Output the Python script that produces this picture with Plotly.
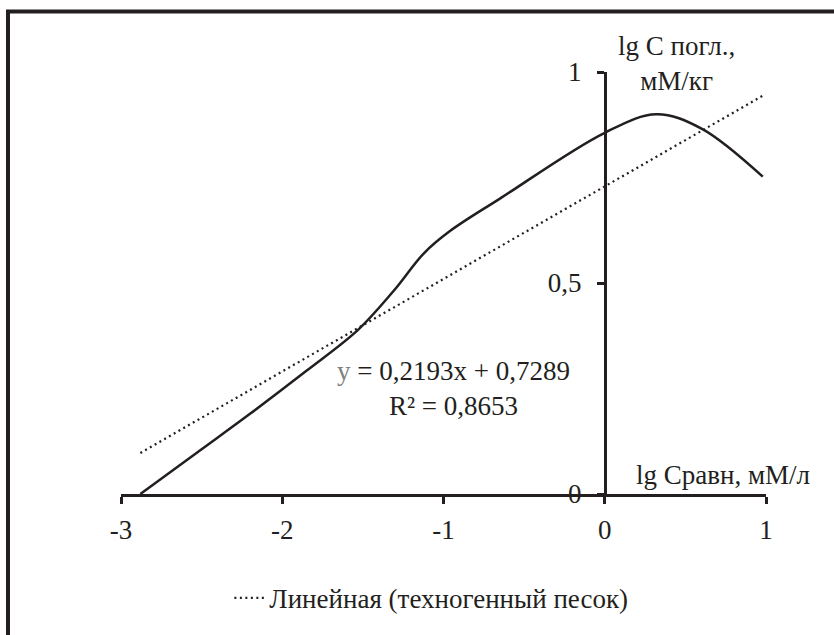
import plotly.graph_objects as go

# ---- data ----
x_data = [-2.88, -2.5, -2.2, -1.85, -1.53, -1.31, -1.12, -0.96, -0.65, 0.0, 0.32, 0.6, 0.98]
y_data = [0.0, 0.106, 0.19, 0.292, 0.389, 0.481, 0.571, 0.623, 0.70, 0.856, 0.90, 0.866, 0.752]
slope, intercept, r2 = 0.2193, 0.7289, 0.8653
x_ticks = [-3, -2, -1, 0, 1]
x_tick_text = ["-3", "-2", "-1", "0", "1"]
y_ticks = [0, 0.5, 1]
y_tick_text = ["0", "0,5", "1"]
trend_name = "Линейная (техногенный песок)"
x_title = "lg Сравн, мМ/л"
y_title_lines = ["lg С погл.,", "мМ/кг"]

INK = "#231f20"
FONT = "Liberation Serif"
FS = 27

trend_x = [min(x_data), max(x_data)]
trend_y = [slope * v + intercept for v in trend_x]

fig = go.Figure()
fig.add_trace(go.Scatter(x=x_data, y=y_data, mode="lines",
                         line=dict(color=INK, width=2.5, shape="spline", smoothing=1.0),
                         showlegend=False, hoverinfo="skip"))
fig.add_trace(go.Scatter(x=trend_x, y=trend_y, mode="lines", name=trend_name,
                         line=dict(color=INK, width=2.2, dash="2px,3.5px"),
                         showlegend=True))

fig.update_layout(
    width=834, height=635,
    margin=dict(l=121, r=68, t=72, b=138, pad=0),
    paper_bgcolor="white", plot_bgcolor="white",
    font=dict(family=FONT, size=FS, color=INK),
    xaxis=dict(range=[-3, 1], domain=[0, 1], showgrid=False, zeroline=False,
               showline=True, linecolor=INK, linewidth=2.5,
               ticks="outside", ticklen=7, tickwidth=2.5, tickcolor=INK,
               tickvals=x_ticks, ticktext=x_tick_text, ticklabelstandoff=3,
               tickfont=dict(family=FONT, size=FS, color=INK)),
    yaxis=dict(range=[0, 1], domain=[0, 1], showgrid=False, zeroline=False,
               anchor="free", position=0.75,
               showline=True, linecolor=INK, linewidth=2.5,
               ticks="outside", ticklen=7, tickwidth=2.5, tickcolor=INK,
               tickvals=y_ticks, ticktext=y_tick_text, ticklabelstandoff=10,
               tickfont=dict(family=FONT, size=FS, color=INK)),
    legend=dict(orientation="h", x=0.168, xanchor="left", y=-0.247, yanchor="middle",
                bgcolor="rgba(0,0,0,0)", font=dict(family=FONT, size=FS, color=INK)),
    showlegend=True,
)

fig.add_annotation(x=0.862, y=1.021, xref="paper", yref="paper",
                   text="<br>".join(y_title_lines), showarrow=False,
                   xanchor="center", yanchor="middle", align="center",
                   font=dict(family=FONT, size=FS, color=INK))
fig.add_annotation(x=1.071, y=0.0447, xref="paper", yref="paper", text=x_title, showarrow=False,
                   xanchor="right", yanchor="middle",
                   font=dict(family=FONT, size=FS, color=INK))
eq_text = ('<span style="color:#808080">y</span> = %sx + %s<br>R² = %s'
           % (f"{slope:.4f}".replace(".", ","), f"{intercept:.4f}".replace(".", ","),
              f"{r2:.4f}".replace(".", ",")))
fig.add_annotation(x=-0.94, y=0.2506, xref="x", yref="y", text=eq_text, showarrow=False,
                   xanchor="center", yanchor="middle", align="center",
                   font=dict(family=FONT, size=FS, color=INK))

# outer frame (only top and left edges visible in the picture)
fig.add_shape(type="rect", xref="paper", yref="paper",
              x0=-0.1752, x1=1.5, y0=-1.0, y1=1.1435,
              line=dict(color=INK, width=4), fillcolor="rgba(0,0,0,0)", layer="above")

fig.write_html("out.html")
